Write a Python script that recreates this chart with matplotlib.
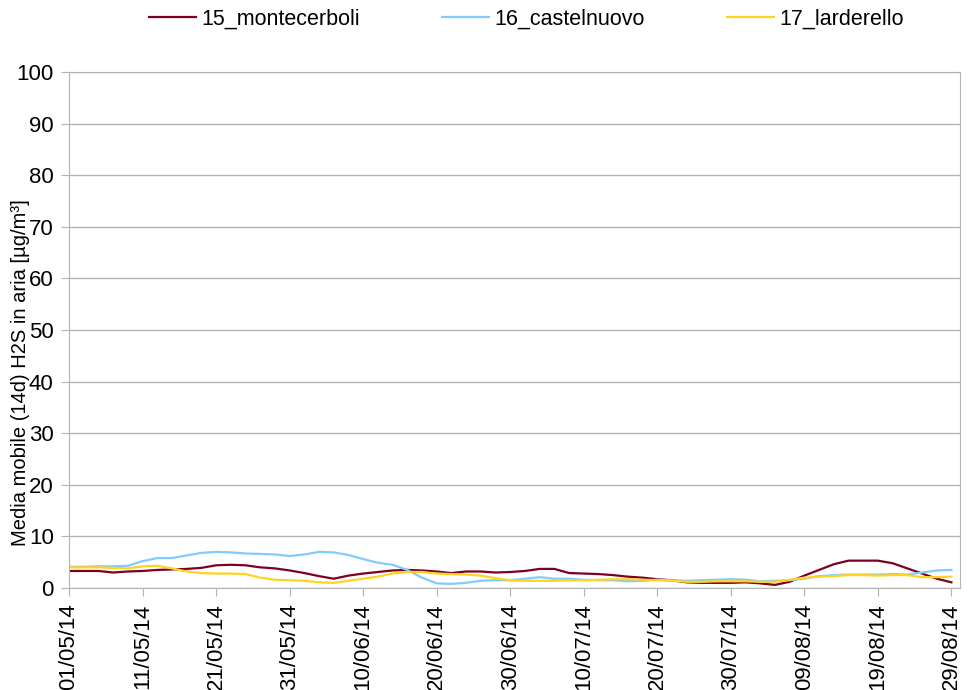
import matplotlib
matplotlib.use("Agg")
import matplotlib.pyplot as plt
import matplotlib.dates as mdates
import pandas as pd

# --- dati: media mobile 14 giorni, un valore ogni 2 giorni ---
date_inizio = "2014-05-01"
montecerboli = [3.3, 3.3, 3.3, 3.0, 3.2, 3.3, 3.5, 3.6, 3.7, 3.9,
                4.4, 4.5, 4.4, 4.0, 3.8, 3.4, 2.9, 2.3, 1.8, 2.4,
                2.8, 3.1, 3.4, 3.5, 3.4, 3.2, 2.9, 3.2, 3.2, 3.0,
                3.1, 3.3, 3.7, 3.7, 2.9, 2.8, 2.7, 2.5, 2.2, 2.0,
                1.7, 1.5, 1.1, 1.0, 1.0, 1.0, 1.1, 0.9, 0.6, 1.2,
                2.4, 3.5, 4.6, 5.3, 5.3, 5.3, 4.8, 3.8, 2.8, 1.8, 1.1]
castelnuovo = [4.1, 4.1, 4.2, 4.2, 4.3, 5.2, 5.8, 5.8, 6.3, 6.8,
               7.0, 6.9, 6.7, 6.6, 6.5, 6.2, 6.5, 7.0, 6.9, 6.4,
               5.6, 4.9, 4.5, 3.5, 2.0, 0.9, 0.8, 1.0, 1.4, 1.5,
               1.5, 1.8, 2.1, 1.8, 1.8, 1.6, 1.5, 1.5, 1.3, 1.4,
               1.6, 1.5, 1.4, 1.5, 1.6, 1.7, 1.6, 1.3, 1.4, 1.5,
               1.8, 2.3, 2.5, 2.6, 2.6, 2.6, 2.7, 2.6, 3.0, 3.4, 3.5]
larderello = [4.0, 4.0, 4.0, 3.9, 3.8, 4.2, 4.3, 3.8, 3.2, 2.9,
              2.8, 2.8, 2.7, 2.0, 1.6, 1.5, 1.4, 1.1, 1.0, 1.4,
              1.8, 2.2, 2.8, 3.1, 3.1, 2.8, 2.7, 2.6, 2.4, 1.9,
              1.5, 1.4, 1.4, 1.4, 1.5, 1.5, 1.6, 1.7, 1.7, 1.6,
              1.5, 1.4, 1.2, 1.2, 1.3, 1.3, 1.3, 1.2, 1.2, 1.6,
              2.0, 2.2, 2.3, 2.5, 2.5, 2.4, 2.5, 2.5, 2.1, 2.1, 2.2]

nomi = ["15_montecerboli", "16_castelnuovo", "17_larderello"]
colori = ["#7e0021", "#83caff", "#ffd320"]

date = pd.date_range(date_inizio, periods=len(montecerboli), freq="2D")
tick_date = pd.date_range(date_inizio, "2014-08-29", freq="10D")

plt.rcParams["font.family"] = ["Liberation Sans", "DejaVu Sans"]

fig = plt.figure(figsize=(9.68, 6.9), dpi=100)
ax = fig.add_axes([69 / 968, 1 - 588 / 690, 891 / 968, 516 / 690])

for serie, nome, col in zip([montecerboli, castelnuovo, larderello], nomi, colori):
    ax.plot(date, serie, color=col, lw=1.6, label=nome)

ax.set_ylim(0, 100)
ax.set_yticks(range(0, 101, 10))
ax.set_xlim(pd.Timestamp("2014-05-01"), pd.Timestamp("2014-08-30 04:00"))
ax.set_xticks(tick_date)
ax.xaxis.set_major_formatter(mdates.DateFormatter("%d/%m/%y"))
ax.tick_params(axis="x", rotation=90, labelsize=16, length=6, color="#b3b3b3", pad=5)
ax.tick_params(axis="y", labelsize=16, length=6, color="#b3b3b3", pad=5)

ax.grid(axis="y", color="#b3b3b3", lw=1)
ax.set_axisbelow(True)
for s in ax.spines.values():
    s.set_color("#b3b3b3")

ax.set_ylabel("Media mobile (14d) H2S in aria [µg/m³]", fontsize=14.5)
ax.yaxis.set_label_coords(-0.044, 0.417)

fig.legend(loc="upper center", bbox_to_anchor=(0.5436, 1.016), ncol=3, frameon=False,
           fontsize=15.5, handlelength=2.2, handletextpad=0.25, columnspacing=3.8)

fig.savefig("out.png", dpi=100)
